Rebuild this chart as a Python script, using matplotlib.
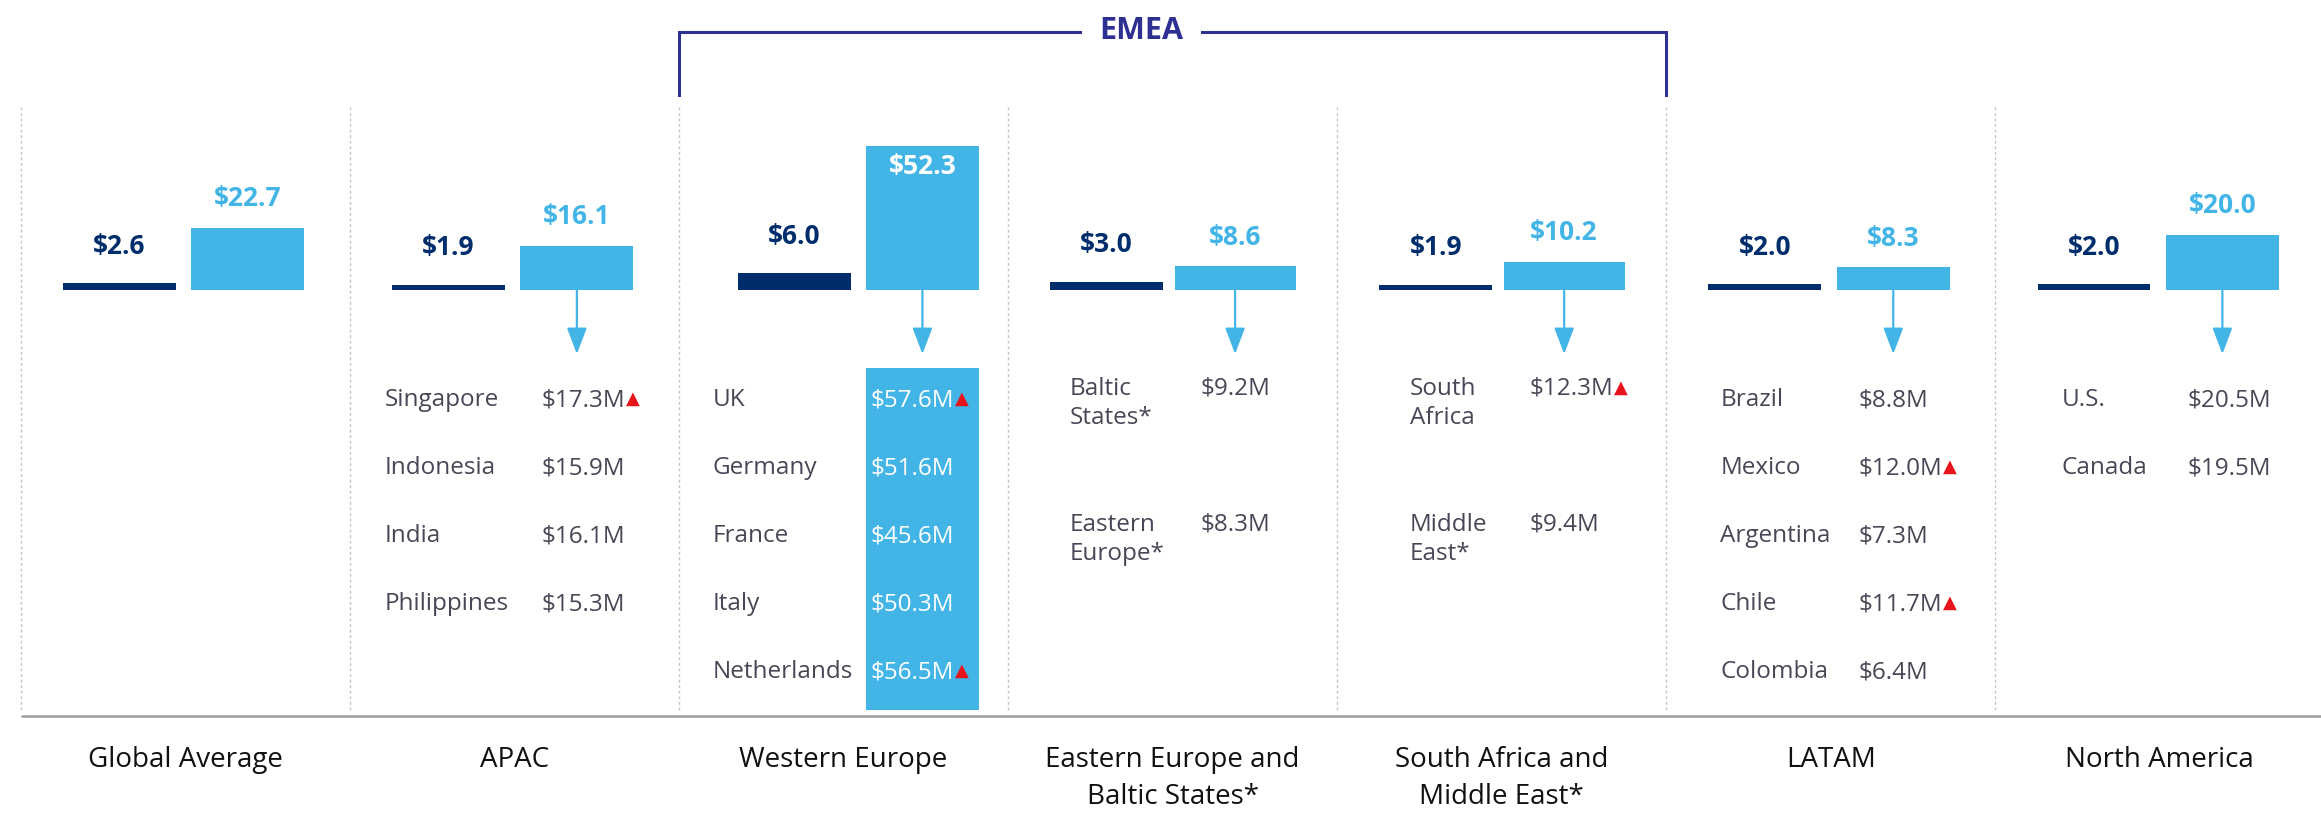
import matplotlib.pyplot as plt
from matplotlib.patches import Rectangle, FancyArrowPatch
import numpy as np

plt.rcParams['font.family'] = ['Open Sans', 'DejaVu Sans']

# --- data -------------------------------------------------------------
REGIONS = ['Global Average', 'APAC', 'Western Europe',
           'Eastern Europe and\nBaltic States*', 'South Africa and\nMiddle East*',
           'LATAM', 'North America']
DARK_VALUES = [2.6, 1.9, 6.0, 3.0, 1.9, 2.0, 2.0]
LIGHT_VALUES = [22.7, 16.1, 52.3, 8.6, 10.2, 8.3, 20.0]

APAC_NAMES = ['Singapore', 'Indonesia', 'India', 'Philippines']
APAC_VALUES = [17.3, 15.9, 16.1, 15.3]
APAC_UP = [True, False, False, False]

WEUR_NAMES = ['UK', 'Germany', 'France', 'Italy', 'Netherlands']
WEUR_VALUES = [57.6, 51.6, 45.6, 50.3, 56.5]
WEUR_UP = [True, False, False, False, True]

EEUR_NAMES = ['Baltic\nStates*', 'Eastern\nEurope*']
EEUR_VALUES = [9.2, 8.3]
EEUR_UP = [False, False]

SAME_NAMES = ['South\nAfrica', 'Middle\nEast*']
SAME_VALUES = [12.3, 9.4]
SAME_UP = [True, False]

LATAM_NAMES = ['Brazil', 'Mexico', 'Argentina', 'Chile', 'Colombia']
LATAM_VALUES = [8.8, 12.0, 7.3, 11.7, 6.4]
LATAM_UP = [False, True, False, True, False]

NAM_NAMES = ['U.S.', 'Canada']
NAM_VALUES = [20.5, 19.5]
NAM_UP = [False, False]

# region index -> its country table
TABLES = {
    1: (APAC_NAMES, APAC_VALUES, APAC_UP),
    2: (WEUR_NAMES, WEUR_VALUES, WEUR_UP),
    3: (EEUR_NAMES, EEUR_VALUES, EEUR_UP),
    4: (SAME_NAMES, SAME_VALUES, SAME_UP),
    5: (LATAM_NAMES, LATAM_VALUES, LATAM_UP),
    6: (NAM_NAMES, NAM_VALUES, NAM_UP),
}

# --- style / layout ---------------------------------------------------
NAVY = '#002d6b'
BLUE = '#42b5e6'
INDIGO = '#2e3192'
GREY_TXT = '#474756'
RED = '#e8141b'

W, H = 2321, 821
X0, COL_W = 20.7, 329.1
BASE = 290            # pixel row of the bar baseline
PX_PER_UNIT = 2.75
TOP = 40
NAME_DX = [0, 35, 34, 62, 73, 54, 66]
VALUE_DX = 192
DARK_OFF, LIGHT_OFF = -0.2, 0.19
BAR_SHIFT = np.array([0, 0, 0.05, 0, 0, 0, 0])
DARK_W = 0.343
LIGHT_W = np.array([0.343, 0.343, 0.343, 0.368, 0.368, 0.343, 0.343])


def col_left(i):
    return X0 + i * COL_W


def col_x(i, off=0.0):
    return X0 + (i + 0.5 + off) * COL_W


fig = plt.figure(figsize=(W / 100, H / 100), dpi=100)
ax = fig.add_axes([0, 0, 1, 1])
ax.set_xlim(0, W)
ax.set_ylim(H, 0)
ax.axis('off')

# bars axis in value units
ax_bar = fig.add_axes([X0 / W, (H - BASE) / H, 7 * COL_W / W, (BASE - TOP) / H])
ax_bar.set_xlim(-0.5, 6.5)
ax_bar.set_ylim(0, (BASE - TOP) / PX_PER_UNIT)
ax_bar.axis('off')
ax_bar.patch.set_visible(False)

x = np.arange(len(REGIONS)) + BAR_SHIFT
ax_bar.bar(x + DARK_OFF, DARK_VALUES, width=DARK_W, color=NAVY)
ax_bar.bar(x + LIGHT_OFF, LIGHT_VALUES, width=LIGHT_W, color=BLUE)

for xi, v in zip(x, DARK_VALUES):
    ax_bar.annotate(f'${v:.1f}', (xi + DARK_OFF, v), xytext=(0, 26.5),
                    textcoords='offset points', ha='center', va='center',
                    fontsize=19, fontweight='bold', color=NAVY)
for xi, v in zip(x, LIGHT_VALUES):
    inside = v > 40
    ax_bar.annotate(f'${v:.1f}', (xi + LIGHT_OFF, v),
                    xytext=(0, -14.5 if inside else 21),
                    textcoords='offset points', ha='center', va='center',
                    fontsize=19, fontweight='bold',
                    color='white' if inside else BLUE)

# dotted separators and base line
ax.vlines([col_left(i) for i in range(7)], 107, 710, colors='#c4c4c4',
          linestyles=(0, (2, 2)), lw=1)
ax.hlines(716, X0, W, colors='#9e9e9e', lw=1.8)

# EMEA bracket
left, right = col_left(2), col_left(5)
tx = left + 0.468 * (right - left)
ax.plot([left, left, tx - 61], [95, 32, 32], color=INDIGO, lw=2.2,
        solid_joinstyle='miter')
ax.plot([tx + 61, right, right], [32, 32, 95], color=INDIGO, lw=2.2,
        solid_joinstyle='miter')
ax.text(tx, 31, 'EMEA', ha='center', va='center', fontsize=22,
        fontweight='bold', color=INDIGO)

# highlight behind Western Europe values
wl = col_x(2, BAR_SHIFT[2] + LIGHT_OFF - LIGHT_W[2] / 2)
ax.add_patch(Rectangle((wl, 368), LIGHT_W[2] * COL_W, 342, color=BLUE, lw=0,
                       zorder=1))

# arrows and country tables
for i, (names, values, ups) in TABLES.items():
    cx = col_x(i, BAR_SHIFT[i] + LIGHT_OFF)
    ax.add_patch(FancyArrowPatch((cx, BASE), (cx, 354),
                                 arrowstyle='-|>,head_length=1.0,head_width=0.38',
                                 mutation_scale=16, color=BLUE, lw=1.6,
                                 shrinkA=0, shrinkB=0, zorder=2))
    nx = col_left(i) + NAME_DX[i]
    vx = col_left(i) + VALUE_DX
    vcol = 'white' if i == 2 else GREY_TXT
    slot = 0
    for name, val, up in zip(names, values, ups):
        lines = name.split('\n')
        y = 400 + 68 * slot
        if len(lines) > 1:
            y -= 11
            slot += 2
        else:
            slot += 1
        for j, line in enumerate(lines):
            ax.text(nx, y + 29 * j, line, ha='left', va='center',
                    fontsize=17.5, color=GREY_TXT, zorder=3)
        t = ax.text(vx, y, f'${val:.1f}M', ha='left', va='center',
                    fontsize=17.5, color=vcol, zorder=3)
        if up:
            ax.annotate('▲', xy=(1, 0.5), xycoords=t, xytext=(0.5, 1),
                        textcoords='offset points', ha='left', va='center',
                        fontsize=13, color=RED, family='DejaVu Sans', zorder=3)

# region labels
for i, label in enumerate(REGIONS):
    for j, line in enumerate(label.split('\n')):
        ax.text(col_x(i), 760 + 37 * j, line, ha='center', va='center',
                fontsize=20, color='#111111')

fig.savefig('out.png', dpi=100, facecolor='white')
